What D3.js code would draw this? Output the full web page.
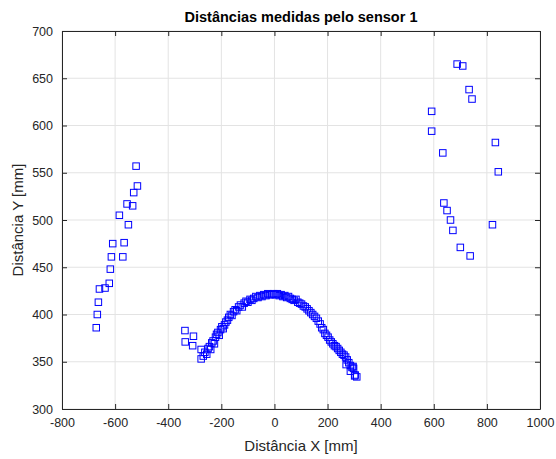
<!DOCTYPE html>
<html>
<head>
<meta charset="utf-8">
<script src="https://cdn.jsdelivr.net/npm/d3@7"></script>
<style>
  body { margin: 0; background: #fff; }
  svg { display: block; font-family: "Liberation Sans", Arial, sans-serif; }
</style>
</head>
<body>
<div class="chart"></div>
<script>
// tick values
const xTicks = [-800, -600, -400, -200, 0, 200, 400, 600, 800, 1000];
const yTicks = [300, 350, 400, 450, 500, 550, 600, 650, 700];

// measured points, left wall
const leftX = [-521, -516, -530, -555, -534, -584, -550, -609, -566, -614, -571, -618, -622, -638, -659, -663, -667, -671];
const leftY = [557, 536, 529, 517, 515, 505, 495, 475, 476, 461, 461, 448, 433, 428, 427, 413, 400, 386];

// measured points, object in front
const arcX = [-337, -305, -336, -308, -276, -276,
  -268, -262, -255, -250, -245, -240, -236, -231, -226, -222, -218, -213, -208, -203, -198, -193, -188, -183,
  -177, -172, -166, -160, -154, -148, -142, -135, -128, -121, -114, -107, -100, -92, -85, -78, -70, -62,
  -55, -47, -40, -32, -25, -17, -10, -3,
  4, 11, 18, 25, 32, 39, 46, 53, 60, 67, 74, 81, 88, 95, 102, 109, 116, 123, 130, 137, 144, 151, 158, 165,
  172, 178, 184, 190, 196, 202, 208, 214, 220, 226, 232, 238, 244, 250, 256, 262, 268, 274, 280, 286, 292,
  298, 304, 310, 296, 286, 302, 270];
const arcY = [383, 377, 371, 367, 363, 353,
  356, 360, 358, 364, 366, 363, 370, 372, 369, 376, 379, 381, 378, 384, 387, 385, 389, 392,
  394, 397, 400, 399, 403, 405, 404, 408, 410, 408, 412, 414, 413, 416, 415, 417, 419, 418,
  420, 419, 421, 420, 422, 421, 421, 422,
  421, 422, 420, 421, 419, 420, 418, 419, 417, 416, 415, 416, 413, 412, 411, 409, 408, 406, 404, 402, 400, 398, 396, 393,
  390, 386, 384, 380, 378, 376, 373, 371, 369, 367, 366, 364, 362, 360, 358, 357, 355, 352, 349, 346, 344,
  343, 336, 334, 345, 340, 335, 347];

// measured points, right wall
const rightX = [688, 709, 733, 744, 592, 592, 832, 634, 843, 638, 650, 663, 672, 821, 700, 737];
const rightY = [665, 663, 638, 628, 615, 594, 582, 571, 551, 518, 510, 500, 489, 495, 471, 462];

const W = 556, H = 459;
const margin = {top: 31, right: 16, bottom: 50, left: 62};
const graphWidth = W - margin.left - margin.right;
const graphHeight = H - margin.top - margin.bottom;

const svg = d3.select('.chart')
  .append('svg')
    .attr('width', W)
    .attr('height', H);

const graph = svg.append('g')
  .attr('transform', `translate(${margin.left}, ${margin.top})`);

const x = d3.scaleLinear().domain([-800, 1000]).range([0, graphWidth]);
const y = d3.scaleLinear().domain([300, 700]).range([graphHeight, 0]);

// grid
graph.append('g')
  .selectAll('line')
  .data(xTicks)
  .join('line')
    .attr('x1', d => x(d)).attr('x2', d => x(d))
    .attr('y1', 0).attr('y2', graphHeight)
    .attr('stroke', '#e3e3e3');
graph.append('g')
  .selectAll('line')
  .data(yTicks)
  .join('line')
    .attr('x1', 0).attr('x2', graphWidth)
    .attr('y1', d => y(d)).attr('y2', d => y(d))
    .attr('stroke', '#e3e3e3');

// axes
const axisColor = '#262626';
const fmt = d => String(d);  // plain hyphen, no thousands comma
const xAxis = d3.axisBottom(x).tickValues(xTicks).tickSizeInner(-5).tickSizeOuter(0).tickPadding(9).tickFormat(fmt);
const yAxis = d3.axisLeft(y).tickValues(yTicks).tickSizeInner(-5).tickSizeOuter(0).tickPadding(9).tickFormat(fmt);
const xTop = d3.axisTop(x).tickValues(xTicks).tickSizeInner(-5).tickSizeOuter(0).tickFormat('');
const yRight = d3.axisRight(y).tickValues(yTicks).tickSizeInner(-5).tickSizeOuter(0).tickFormat('');

const xAxisGroup = graph.append('g').attr('transform', `translate(0, ${graphHeight})`).call(xAxis);
const yAxisGroup = graph.append('g').call(yAxis);
graph.append('g').call(xTop);
graph.append('g').attr('transform', `translate(${graphWidth}, 0)`).call(yRight);

graph.selectAll('.domain, .tick line').attr('stroke', axisColor);
graph.selectAll('.tick text')
  .attr('fill', axisColor)
  .attr('font-size', 12.5)
  .attr('font-family', '"Liberation Sans", Arial, sans-serif');
yAxisGroup.selectAll('.tick text').attr('dy', '0.32em');

// markers
const pts = [];
leftX.forEach((v, i) => pts.push({x: v, y: leftY[i]}));
arcX.forEach((v, i) => pts.push({x: v, y: arcY[i]}));
rightX.forEach((v, i) => pts.push({x: v, y: rightY[i]}));

const s = 6.5;
graph.append('g')
  .selectAll('rect')
  .data(pts)
  .join('rect')
    .attr('x', d => x(d.x) - s / 2)
    .attr('y', d => y(d.y) - s / 2)
    .attr('width', s)
    .attr('height', s)
    .attr('fill', 'none')
    .attr('stroke', '#0000ff')
    .attr('stroke-width', 1);

// labels
svg.append('text')
  .attr('x', margin.left + graphWidth / 2)
  .attr('y', 22)
  .attr('text-anchor', 'middle')
  .attr('font-size', 14.5)
  .attr('font-weight', 'bold')
  .attr('fill', '#000')
  .text('Distâncias medidas pelo sensor 1');

svg.append('text')
  .attr('x', margin.left + graphWidth / 2)
  .attr('y', 451)
  .attr('text-anchor', 'middle')
  .attr('font-size', 15)
  .attr('fill', axisColor)
  .text('Distância X [mm]');

svg.append('text')
  .attr('transform', `translate(23, ${margin.top + graphHeight / 2}) rotate(-90)`)
  .attr('text-anchor', 'middle')
  .attr('font-size', 15)
  .attr('fill', axisColor)
  .text('Distância Y [mm]');
</script>
</body>
</html>
